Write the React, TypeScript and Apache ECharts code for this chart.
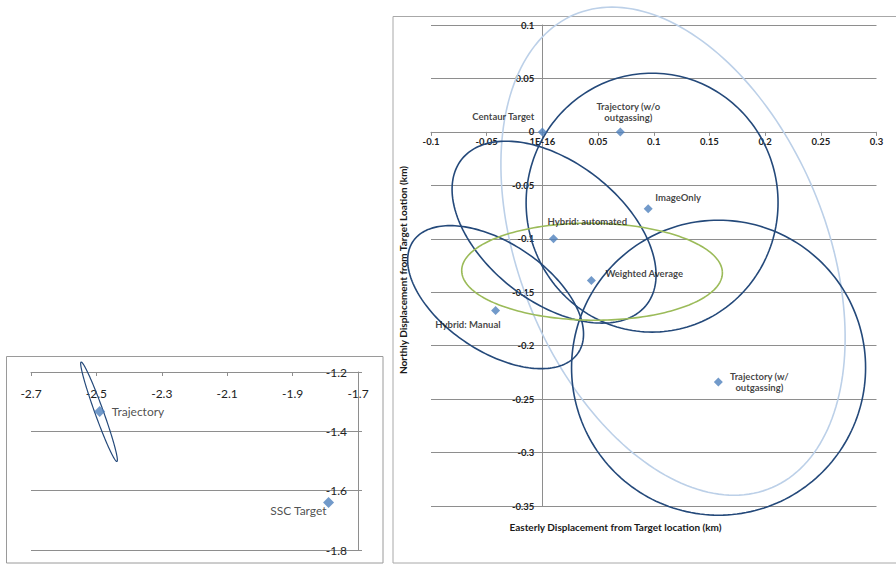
import React, { useEffect, useRef } from 'react';
import * as echarts from 'echarts';

// ---------- Main panel: estimated solutions (km) ----------
const pointNames = [
  'Centaur Target',
  'Trajectory (w/o outgassing)',
  'ImageOnly',
  'Hybrid: automated',
  'Weighted Average',
  'Hybrid: Manual',
  'Trajectory (w/ outgassing)',
];
const pointLabels = [
  'Centaur Target',
  'Trajectory (w/o\noutgassing)',
  'ImageOnly',
  'Hybrid: automated',
  'Weighted Average',
  'Hybrid: Manual',
  'Trajectory (w/\noutgassing)',
];
const easting = [0, 0.07, 0.095, 0.01, 0.044, -0.042, 0.158];
const northing = [0, 0, -0.072, -0.1, -0.139, -0.167, -0.234];

// Error ellipses (km): centre, horizontal half-chord through the centre,
// and offset of the topmost point from the centre
const ellipseNames = ['Envelope', 'ImageOnly', 'Hybrid: automated', 'Hybrid: Manual', 'Trajectory (w/ outgassing)', 'Weighted Average'];
const ellipseCx = [0.1173, 0.0985, 0.0105, -0.042, 0.1582, 0.0446];
const ellipseCy = [-0.1116, -0.0662, -0.0938, -0.1546, -0.2206, -0.1308];
const ellipseHalfWidth = [0.1445, 0.1131, 0.0808, 0.0676, 0.132, 0.117];
const ellipseTopDx = [-0.0548, 0, -0.0431, -0.0408, 0, -0.0027];
const ellipseTopDy = [0.2283, 0.1211, 0.0851, 0.0669, 0.138, 0.0454];

const mainXTicks = [-0.1, -0.05, 0, 0.05, 0.1, 0.15, 0.2, 0.25, 0.3];
const mainXTickLabels = ['-0.1', '-0.05', '1E-16', '0.05', '0.1', '0.15', '0.2', '0.25', '0.3'];
const mainYTicks = [0.1, 0.05, 0, -0.05, -0.1, -0.15, -0.2, -0.25, -0.3, -0.35];
const mainYTickLabels = ['0.1', '0.05', '0', '-0.05', '-0.1', '-0.15', '-0.2', '-0.25', '-0.3', '-0.35'];

// ---------- Inset panel ----------
const insetNames = ['Trajectory', 'SSC Target'];
const insetX = [-2.49, -1.79];
const insetY = [-1.333, -1.64];
const insetEllipseCx = [-2.492];
const insetEllipseCy = [-1.334];
const insetEllipseHalfWidth = [0.0138];
const insetEllipseTopDx = [-0.0544];
const insetEllipseTopDy = [0.1675];

const insetXTicks = [-2.7, -2.5, -2.3, -2.1, -1.9, -1.7];
const insetYTicks = [-1.8, -1.6, -1.4, -1.2];

// ---------- styling ----------
const FONT = 'Lato, "Noto Sans", sans-serif';
const GRID_COLOR = '#8e8e8e';
const MARKER = '#4f81bd';
const ellipseColors = ['#bcd0e8', '#24497a', '#24497a', '#24497a', '#24497a', '#9bbb59'];

const MAIN_LEFT = 431;
const MAIN_TOP = 25;
const MAIN_W = 445.5;
const MAIN_H = 481;

const labelPlacement: Record<string, { align: string; offset: [number, number] }> = {
  'Centaur Target': { align: 'right', offset: [-8, -15] },
  'Trajectory (w/o outgassing)': { align: 'center', offset: [8, -20] },
  ImageOnly: { align: 'left', offset: [7, -11] },
  'Hybrid: automated': { align: 'left', offset: [-6, -17] },
  'Weighted Average': { align: 'left', offset: [14, -7] },
  'Hybrid: Manual': { align: 'right', offset: [5, 14] },
  'Trajectory (w/ outgassing)': { align: 'center', offset: [41, 0] },
  Trajectory: { align: 'left', offset: [12, 0] },
  'SSC Target': { align: 'right', offset: [-2, 8] },
};

function tickLabel(ticks: number[], labels: string[]) {
  return (v: number) => {
    for (let i = 0; i < ticks.length; i++) {
      if (Math.abs(ticks[i] - v) < 1e-9) return labels[i];
    }
    return '';
  };
}

function ellipseRender(colors: string[], width: number) {
  return (params: any, api: any) => {
    const cx = api.value(0);
    const cy = api.value(1);
    const h = api.value(2);
    const dx = api.value(3);
    const dy = api.value(4);
    const pts: number[][] = [];
    const n = 200;
    for (let k = 0; k <= n; k++) {
      const t = (2 * Math.PI * k) / n;
      pts.push(api.coord([cx + h * Math.cos(t) + dx * Math.sin(t), cy + dy * Math.sin(t)]));
    }
    return {
      type: 'polyline',
      shape: { points: pts },
      style: { fill: 'none', stroke: colors[params.dataIndex], lineWidth: width },
      silent: true,
    };
  };
}

export default function App() {
  const ref = useRef<HTMLDivElement>(null);

  useEffect(() => {
    if (!ref.current) return;
    const chart = echarts.init(ref.current, undefined, { renderer: 'svg' });

    // pixel offsets that put the main axes through the origin (Excel "axis crosses at 0")
    const xMin = -0.1, xMax = 0.3, yMin = -0.35, yMax = 0.1;
    const zeroX = MAIN_LEFT + ((0 - xMin) / (xMax - xMin)) * MAIN_W;
    const zeroY = MAIN_TOP + ((yMax - 0) / (yMax - yMin)) * MAIN_H;

    const mainPoints = pointNames.map((n, i) => ({
      name: n,
      value: [easting[i], northing[i]],
      label: {
        show: true,
        formatter: pointLabels[i],
        position: 'inside',
        align: labelPlacement[n].align,
        verticalAlign: 'middle',
        offset: labelPlacement[n].offset,
        fontSize: 9.5,
        fontWeight: 'bold',
        fontFamily: FONT,
        color: '#111',
        lineHeight: 11.5,
      },
    }));
    const insetPoints = insetNames.map((n, i) => ({
      name: n,
      value: [insetX[i], insetY[i]],
      label: {
        show: true,
        formatter: n,
        position: 'inside',
        align: labelPlacement[n].align,
        verticalAlign: 'middle',
        offset: labelPlacement[n].offset,
        fontSize: 12,
        fontFamily: FONT,
        color: '#222',
      },
    }));

    const option: any = {
      animation: false,
      backgroundColor: '#ffffff',
      grid: [
        { left: MAIN_LEFT, top: MAIN_TOP, width: MAIN_W, height: MAIN_H, containLabel: false },
        { left: 31, top: 372, width: 327, height: 178, containLabel: false },
      ],
      xAxis: [
        {
          type: 'value',
          gridIndex: 0,
          position: 'bottom',
          offset: -(MAIN_TOP + MAIN_H - zeroY),
          min: xMin,
          max: xMax,
          interval: 0.05,
          axisLine: { onZero: false, lineStyle: { color: GRID_COLOR, width: 1 } },
          axisTick: { show: true, length: 4, lineStyle: { color: GRID_COLOR } },
          axisLabel: {
            formatter: tickLabel(mainXTicks, mainXTickLabels),
            fontSize: 9.5,
            fontWeight: 'bold',
            fontFamily: FONT,
            color: '#222',
            margin: 5,
          },
          splitLine: { show: false },
        },
        {
          type: 'value',
          gridIndex: 1,
          position: 'top',
          min: -2.7,
          max: -1.7,
          axisLine: { onZero: false, lineStyle: { color: GRID_COLOR, width: 1 } },
          axisTick: { show: true, inside: true, length: 4, customValues: insetXTicks, lineStyle: { color: GRID_COLOR } },
          axisLabel: {
            inside: true,
            customValues: insetXTicks,
            formatter: (v: number) => String(Math.round(v * 10) / 10),
            fontSize: 12,
            fontFamily: FONT,
            color: '#222',
            margin: 15,
          },
          splitLine: { show: false },
        },
      ],
      yAxis: [
        {
          type: 'value',
          gridIndex: 0,
          position: 'left',
          offset: -(zeroX - MAIN_LEFT),
          min: yMin,
          max: yMax,
          interval: 0.05,
          axisLine: { onZero: false, lineStyle: { color: GRID_COLOR, width: 1 } },
          axisTick: { show: true, length: 4, lineStyle: { color: GRID_COLOR } },
          axisLabel: {
            formatter: tickLabel(mainYTicks, mainYTickLabels),
            fontSize: 9.5,
            fontWeight: 'bold',
            fontFamily: FONT,
            color: '#222',
            margin: 8,
            lineHeight: 9,
          },
          splitLine: { show: true, lineStyle: { color: GRID_COLOR, width: 1 } },
        },
        {
          type: 'value',
          gridIndex: 1,
          position: 'right',
          min: -1.8,
          max: -1.2,
          interval: 0.2,
          axisLine: { onZero: false, lineStyle: { color: GRID_COLOR, width: 1 } },
          axisTick: { show: true, length: 4, lineStyle: { color: GRID_COLOR } },
          axisLabel: {
            inside: true,
            formatter: tickLabel(insetYTicks, insetYTicks.map((v) => String(v))),
            fontSize: 12,
            fontFamily: FONT,
            color: '#222',
            margin: 11,
          },
          splitLine: { show: true, lineStyle: { color: GRID_COLOR, width: 1 } },
        },
      ],
      series: [
        {
          type: 'custom',
          name: 'ellipses',
          xAxisIndex: 0,
          yAxisIndex: 0,
          clip: false,
          z: 3,
          silent: true,
          renderItem: ellipseRender(ellipseColors, 1.6),
          data: ellipseNames.map((n, i) => ({
            name: n,
            value: [ellipseCx[i], ellipseCy[i], ellipseHalfWidth[i], ellipseTopDx[i], ellipseTopDy[i]],
          })),
        },
        {
          type: 'scatter',
          name: 'solutions',
          xAxisIndex: 0,
          yAxisIndex: 0,
          symbol: 'diamond',
          symbolSize: 9,
          z: 5,
          itemStyle: { color: MARKER },
          data: mainPoints,
        },
        {
          type: 'custom',
          name: 'inset ellipse',
          xAxisIndex: 1,
          yAxisIndex: 1,
          clip: false,
          z: 3,
          silent: true,
          renderItem: ellipseRender(['#24497a'], 1.2),
          data: insetEllipseCx.map((c, i) => [c, insetEllipseCy[i], insetEllipseHalfWidth[i], insetEllipseTopDx[i], insetEllipseTopDy[i]]),
        },
        {
          type: 'scatter',
          name: 'inset points',
          xAxisIndex: 1,
          yAxisIndex: 1,
          symbol: 'diamond',
          symbolSize: 11,
          z: 5,
          itemStyle: { color: MARKER },
          data: insetPoints,
        },
      ],
      graphic: [
        {
          type: 'rect',
          shape: { x: 6.5, y: 356.5, width: 376.5, height: 206.5 },
          style: { fill: 'none', stroke: '#9a9a9a', lineWidth: 1 },
          z: 1,
          silent: true,
        },
        {
          type: 'rect',
          shape: { x: 393, y: 16.5, width: 520, height: 546.5 },
          style: { fill: 'none', stroke: '#a8a8a8', lineWidth: 1 },
          z: 1,
          silent: true,
        },
        {
          type: 'text',
          x: 403,
          y: 270,
          rotation: Math.PI / 2,
          style: {
            text: 'Northly Displacement from Target Loation (km)',
            align: 'center',
            verticalAlign: 'middle',
            fontSize: 10,
            fontWeight: 'bold',
            fontFamily: FONT,
            fill: '#1a1a1a',
          },
        },
        {
          type: 'text',
          x: 615.5,
          y: 527,
          style: {
            text: 'Easterly Displacement from Target location (km)',
            align: 'center',
            verticalAlign: 'middle',
            fontSize: 10,
            fontWeight: 'bold',
            fontFamily: FONT,
            fill: '#1a1a1a',
          },
        },
      ],
    };

    chart.setOption(option);
    return () => chart.dispose();
  }, []);

  return (
    <div
      ref={ref}
      style={{ position: 'absolute', left: 0, top: 0, width: 896, height: 566, background: '#fff' }}
    />
  );
}
